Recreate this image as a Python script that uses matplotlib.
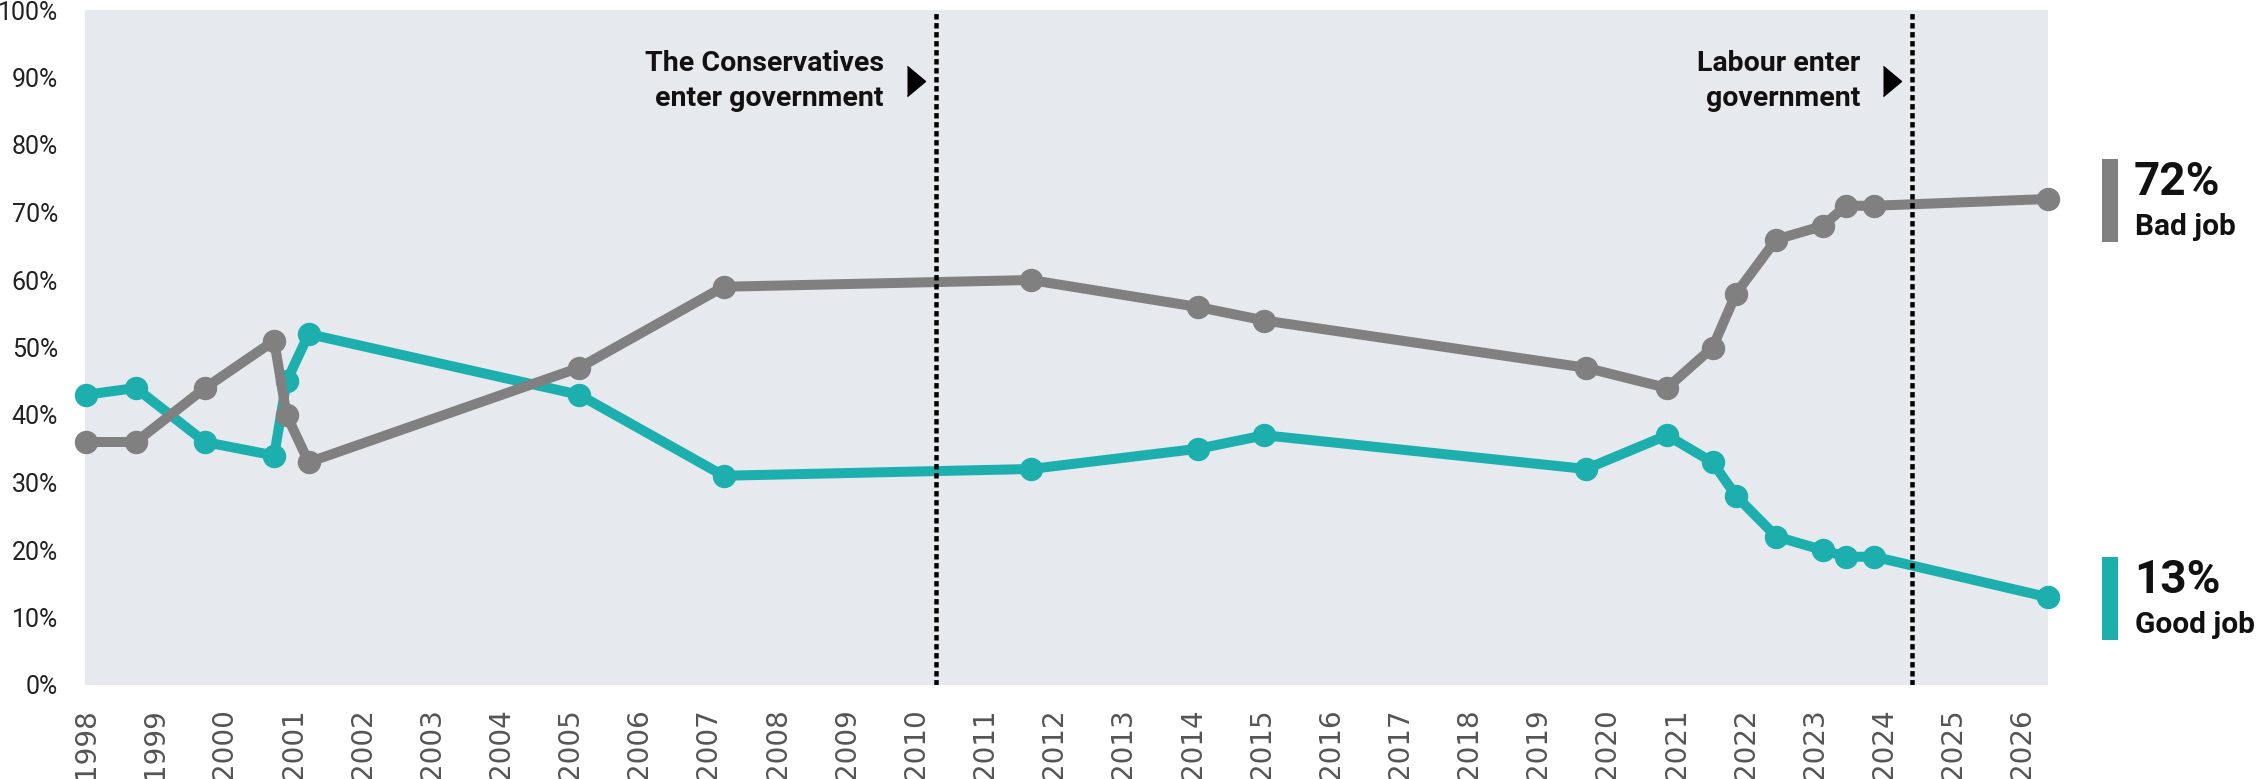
import matplotlib
matplotlib.use("Agg")
import matplotlib.pyplot as plt
from matplotlib.transforms import offset_copy

# survey dates (decimal years) and shares
dates = [1998.0, 1998.72, 1999.72, 2000.72, 2000.9, 2001.22, 2005.13, 2007.22,
         2011.66, 2014.08, 2015.04, 2019.69, 2020.86, 2021.52, 2021.86, 2022.44,
         2023.11, 2023.45, 2023.86, 2026.37]
bad_job = [36, 36, 44, 51, 40, 33, 47, 59, 60, 56, 54, 47, 44, 50, 58, 66, 68, 71, 71, 72]
good_job = [43, 44, 36, 34, 45, 52, 43, 31, 32, 35, 37, 32, 37, 33, 28, 22, 20, 19, 19, 13]

years = list(range(1998, 2027))
yticks = list(range(0, 101, 10))

events = [2010.29, 2024.41]
event_labels = ["The Conservatives\nenter government", "Labour enter\ngovernment"]

GREY = "#808080"
TEAL = "#1DAFAE"
BG = "#E6E9EE"

W, H = 2260, 779
DPI = 100
fig = plt.figure(figsize=(W / DPI, H / DPI), dpi=DPI)
ax = fig.add_axes([85 / W, 1 - 685 / H, (2048 - 85) / W, (685 - 10) / H])
ax.set_facecolor(BG)

px = 72 / DPI  # points per pixel

ax.plot(dates, good_job, color=TEAL, lw=10 * px, marker="o", ms=22 * px,
        clip_on=False, zorder=3, solid_joinstyle="round")
ax.plot(dates, bad_job, color=GREY, lw=10 * px, marker="o", ms=22 * px,
        clip_on=False, zorder=4, solid_joinstyle="round")

for x, lab in zip(events, event_labels):
    ax.axvline(x, color="black", lw=4.5 * px, linestyle=(0, (1.2, 0.8)), zorder=5)
    ax.annotate(lab, xy=(x, 89.5), xytext=(-52 * px, 0), textcoords="offset points",
                ha="right", va="center", fontsize=20.5, fontweight="bold",
                family=["Roboto", "DejaVu Sans"], linespacing=1.4, color="#111111")
    ax.plot([x], [89.5], marker=[(-0.6, -1), (0.6, 0), (-0.6, 1)], ms=30 * px,
            color="black", ls="none",
            transform=offset_copy(ax.transData, fig, x=-20, units="dots"), zorder=6)

ax.set_xlim(dates[0] - 0.015, dates[-1])
ax.set_ylim(0, 100)
ax.set_xticks(years)
ax.set_xticklabels([str(y) for y in years], rotation=90, fontsize=20, color="#555555",
                   family=["Liberation Sans Narrow", "DejaVu Sans"], va="top")
ax.set_yticks(yticks)
ax.set_yticklabels([f"{v}%" for v in yticks], fontsize=18, color="#222222",
                   family=["Roboto", "DejaVu Sans"])
ax.tick_params(axis="x", length=0, pad=23 * px)
ax.tick_params(axis="y", length=0, pad=27 * px)
for s in ax.spines.values():
    s.set_visible(False)

# end labels
last = dates[-1]
bar_tr = offset_copy(ax.transData, fig, x=62, units="dots")
for val, col, name in [(bad_job[-1], GREY, "Bad job"), (good_job[-1], TEAL, "Good job")]:
    ax.plot([last, last], [val - 6.3, val + 6.0], color=col, lw=16 * px,
            solid_capstyle="butt", transform=bar_tr, clip_on=False)
    ax.annotate(f"{val}%", xy=(last, val), xytext=(86 * px, 4 * px),
                textcoords="offset points", ha="left", va="baseline",
                fontsize=33, fontweight="bold", family=["Roboto", "DejaVu Sans"],
                color="#111111", annotation_clip=False)
    ax.annotate(name, xy=(last, val), xytext=(87 * px, -36 * px),
                textcoords="offset points", ha="left", va="baseline",
                fontsize=21.5, fontweight="bold", family=["Roboto", "DejaVu Sans"],
                color="#111111", annotation_clip=False)

fig.savefig("out.png", dpi=DPI, facecolor="white")
